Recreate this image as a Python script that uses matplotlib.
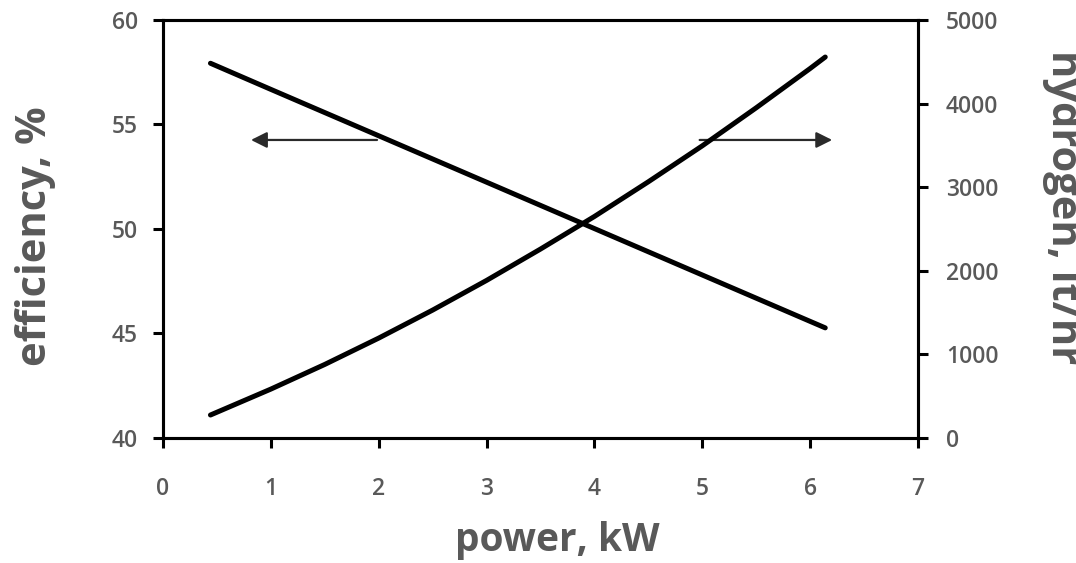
import matplotlib.pyplot as plt

# values
power_kw = [0.44, 1, 1.5, 2, 2.5, 3, 3.5, 4, 4.5, 5, 5.5, 6, 6.14]
efficiency_pct = [57.93, 56.68, 55.57, 54.46, 53.35, 52.24, 51.13, 50.02, 48.91, 47.80, 46.69, 45.58, 45.27]
hydrogen_lthr = [275, 585, 880, 1195, 1530, 1885, 2260, 2650, 3065, 3495, 3950, 4420, 4557]

x_ticks = [0, 1, 2, 3, 4, 5, 6, 7]
eff_ticks = [40, 45, 50, 55, 60]
h2_ticks = [0, 1000, 2000, 3000, 4000, 5000]

GRAY = '#595959'
plt.rcParams['font.family'] = ['Open Sans', 'DejaVu Sans']

fig = plt.figure(figsize=(10.76, 5.63), dpi=100)
ax = fig.add_axes([163 / 1076, 1 - 438 / 563, 755 / 1076, 418 / 563])
ax2 = ax.twinx()

ax.plot(power_kw, efficiency_pct, color='black', linewidth=3.6, solid_capstyle='round')
ax2.plot(power_kw, hydrogen_lthr, color='black', linewidth=3.6, solid_capstyle='round')

ax.set_xlim(0, 7)
ax.set_ylim(40, 60)
ax2.set_ylim(0, 5000)
ax.set_xticks(x_ticks)
ax.set_yticks(eff_ticks)
ax2.set_yticks(h2_ticks)

for a in (ax, ax2):
    for s in a.spines.values():
        s.set_linewidth(2.2)
        s.set_color('black')
ax.tick_params(axis='x', direction='out', length=7, width=2.2, pad=21,
               labelsize=16.5, labelcolor=GRAY)
ax.tick_params(axis='y', direction='out', length=7, width=2.2, pad=11,
               labelsize=16.5, labelcolor=GRAY)
ax2.tick_params(axis='y', direction='out', length=7, width=2.2, pad=13,
                labelsize=16.5, labelcolor=GRAY)
for lbl in ax.get_xticklabels() + ax.get_yticklabels() + ax2.get_yticklabels():
    lbl.set_fontweight('semibold')

# direction arrows
arrow = dict(arrowstyle='-|>', color='#2a2a2a', lw=1.6, mutation_scale=24)
ax.annotate('', xy=(0.79, 54.26), xytext=(2.01, 54.26), arrowprops=arrow)
ax.annotate('', xy=(6.23, 54.26), xytext=(4.95, 54.26), arrowprops=arrow)

fig.text(36 / 1076, 1 - 236 / 563, 'efficiency, %', rotation=90, ha='center', va='center',
         fontsize=30, fontweight='bold', color=GRAY)
fig.text(557 / 1076, 1 - 540 / 563, 'power, kW', ha='center', va='center',
         fontsize=28, fontweight='bold', color=GRAY)
fig.text(1063 / 1076, 1 - 207 / 563, 'hydrogen, lt/hr', rotation=-90, ha='center', va='center',
         fontsize=30, fontweight='bold', color=GRAY)

plt.savefig('out.png', dpi=100)
